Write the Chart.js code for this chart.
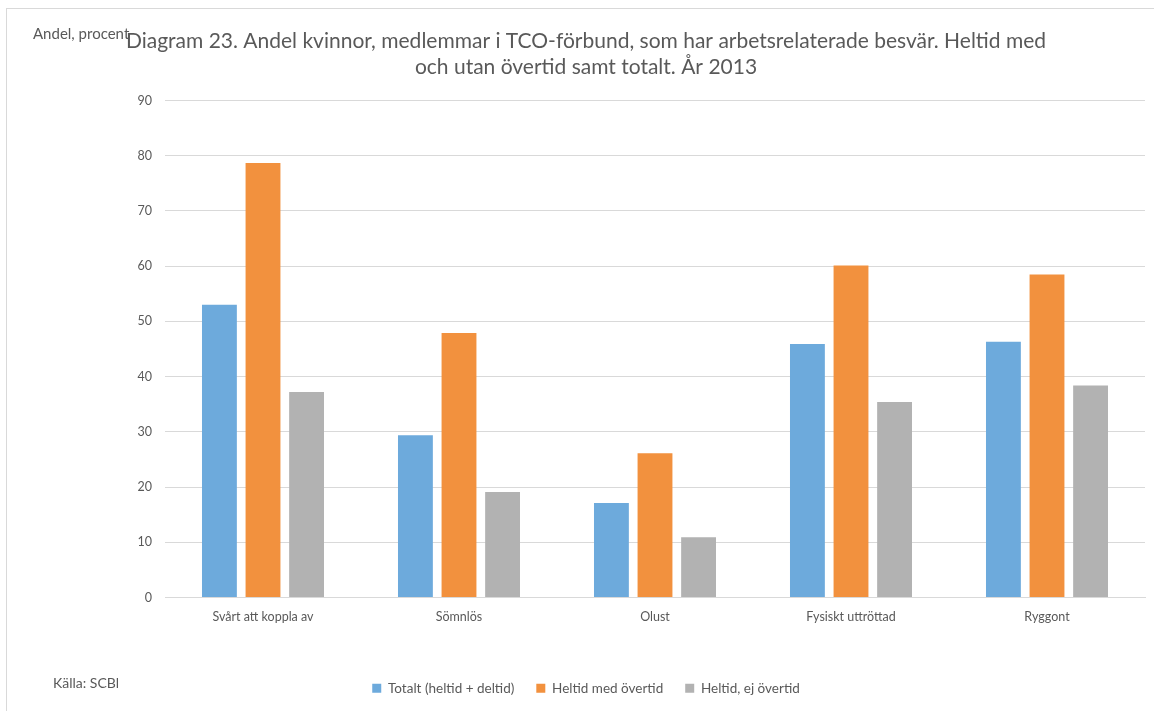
<!DOCTYPE html>
<html>
<head>
<meta charset="utf-8">
<script src="https://cdn.jsdelivr.net/npm/chart.js@4.4.1/dist/chart.umd.min.js"></script>
<style>
  html, body { margin: 0; padding: 0; background: #fff; }
  #wrap { position: relative; width: 1154px; height: 711px; overflow: hidden; }
  #frame { position: absolute; left: 6px; top: 8px; width: 1200px; height: 800px; border: 1px solid #d9d9d9; box-sizing: border-box; }
  canvas { position: absolute; left: 0; top: 0; }
</style>
</head>
<body>
<div id="wrap">
  <div id="frame"></div>
  <canvas id="c" width="1154" height="711"></canvas>
</div>
<script>
const categories = ['Svårt att koppla av', 'Sömnlös', 'Olust', 'Fysiskt uttröttad', 'Ryggont'];
const totalt = [53.0, 29.4, 17.1, 45.9, 46.3];
const heltidMedOvertid = [78.7, 47.9, 26.1, 60.1, 58.5];
const heltidEjOvertid = [37.2, 19.1, 10.9, 35.4, 38.4];
const seriesNames = ['Totalt (heltid + deltid)', 'Heltid med övertid', 'Heltid, ej övertid'];
const titleLines = ['Diagram 23. Andel kvinnor, medlemmar i TCO-förbund, som har arbetsrelaterade besvär. Heltid med',
                    'och utan övertid samt totalt. År 2013'];
const yAxisLabel = 'Andel, procent';
const sourceNote = 'Källa: SCBl';

const FONT = "Lato, 'Open Sans', sans-serif";
const TEXT = '#595959';
const GRID = '#d9d9d9';

// Extra captions drawn on the canvas: axis unit and source note
const captions = {
  id: 'captions',
  afterDraw(chart) {
    const ctx = chart.ctx;
    ctx.save();
    ctx.fillStyle = TEXT;
    ctx.textBaseline = 'middle';
    ctx.textAlign = 'left';
    ctx.font = '15px ' + FONT;
    ctx.fillText(yAxisLabel, 33, 34);
    ctx.font = '14px ' + FONT;
    ctx.fillText(sourceNote, 53, 683);
    ctx.restore();
  }
};

Chart.defaults.font.family = FONT;
Chart.defaults.color = TEXT;

new Chart(document.getElementById('c'), {
  type: 'bar',
  data: {
    labels: categories,
    datasets: [
      { label: seriesNames[0], data: totalt, backgroundColor: '#6DAADC' },
      { label: seriesNames[1], data: heltidMedOvertid, backgroundColor: '#F2913E' },
      { label: seriesNames[2], data: heltidEjOvertid, backgroundColor: '#B2B2B2' }
    ]
  },
  options: {
    responsive: false,
    animation: false,
    devicePixelRatio: 1,
    layout: { padding: { left: 27, right: 9, top: 28, bottom: 6 } },
    datasets: { bar: { categoryPercentage: 0.667, barPercentage: 0.8 } },
    plugins: {
      title: {
        display: true,
        text: titleLines,
        color: TEXT,
        font: { size: 21, weight: 'normal', lineHeight: 1.25 },
        padding: { top: 0, bottom: 20 }
      },
      legend: {
        position: 'bottom',
        labels: { boxWidth: 9, boxHeight: 9, padding: 22, color: TEXT, font: { size: 13.5 } }
      },
      tooltip: { enabled: false }
    },
    scales: {
      x: {
        grid: { display: false },
        border: { color: GRID },
        ticks: { color: TEXT, font: { size: 12.5 }, padding: 4, maxRotation: 0 },
        afterFit(s) { s.height = 62; }
      },
      y: {
        min: 0, max: 90,
        grid: { color: GRID, drawTicks: false },
        border: { display: false },
        ticks: { stepSize: 10, color: TEXT, font: { size: 12.5 }, padding: 13 },
        afterFit(s) { s.width = 138; }
      }
    }
  },
  plugins: [captions]
});
</script>
</body>
</html>
